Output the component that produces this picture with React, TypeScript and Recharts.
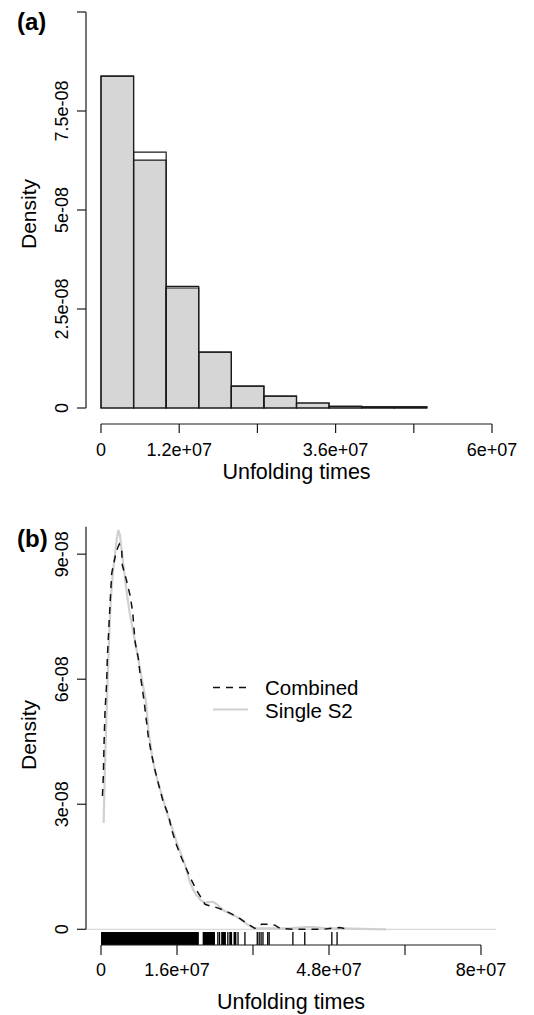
import {
  ComposedChart, Bar, Line, XAxis, YAxis, ReferenceLine, ReferenceArea, Legend, Label,
} from 'recharts'

// (a) histogram of unfolding times, bins of 5e6
const binMids = [2.5e6, 7.5e6, 12.5e6, 17.5e6, 22.5e6, 27.5e6, 32.5e6, 37.5e6, 42.5e6, 47.5e6]
const histFilled = [8.38e-8, 6.26e-8, 3.03e-8, 1.41e-8, 0.55e-8, 0.30e-8, 0.126e-8, 0.04e-8, 0.03e-8, 0.03e-8]
const histOpen = [8.38e-8, 6.46e-8, 3.07e-8, 1.41e-8, 0.55e-8, 0.30e-8, 0.126e-8, 0.04e-8, 0.03e-8, 0.03e-8]
const histXTicks = [0, 1.2e7, 2.4e7, 3.6e7, 4.8e7, 6e7]
const histXTickLabels = ['0', '1.2e+07', '', '3.6e+07', '', '6e+07']
const histYTicks = [0, 2.5e-8, 5e-8, 7.5e-8, 1e-7]
const histYTickLabels = ['0', '2.5e-08', '5e-08', '7.5e-08', '']

// (b) density estimates
const s2X = [
  0.55e6, 0.85e6, 1.25e6, 1.65e6, 2.05e6, 2.5e6, 2.95e6, 3.3e6, 3.65e6, 4.0e6, 4.7e6, 5.4e6,
  6.1e6, 7.1e6, 8.07e6, 9.0e6, 9.47e6, 9.96e6, 10.7e6, 11.4e6, 12.6e6, 13.8e6, 14.9e6, 15.9e6,
  17.0e6, 17.7e6, 18.7e6, 19.4e6, 20.1e6, 21.0e6, 21.9e6, 22.8e6, 23.6e6, 24.4e6, 25.7e6, 27.0e6,
  28.4e6, 29.8e6, 31.0e6, 32.2e6, 34e6, 37e6, 40e6, 43e6, 45e6, 47e6, 50e6, 55e6, 60e6,
]
const s2Y = [
  2.55e-8, 4.0e-8, 5.5e-8, 6.8e-8, 7.9e-8, 8.55e-8, 9.0e-8, 9.35e-8, 9.58e-8, 9.45e-8, 8.74e-8, 8.1e-8,
  7.54e-8, 6.95e-8, 6.34e-8, 5.75e-8, 5.46e-8, 4.8e-8, 4.2e-8, 3.78e-8, 3.3e-8, 2.82e-8, 2.45e-8, 2.1e-8,
  1.75e-8, 1.54e-8, 1.14e-8, 0.95e-8, 0.82e-8, 0.7e-8, 0.64e-8, 0.65e-8, 0.66e-8, 0.6e-8, 0.46e-8, 0.38e-8,
  0.31e-8, 0.2e-8, 0.1e-8, 0.02e-8, 0.02e-8, 0.02e-8, 0.03e-8, 0.05e-8, 0.05e-8, 0.03e-8, 0.02e-8, 0.01e-8, 0,
]
const combX = [
  0.3e6, 0.5e6, 0.63e6, 0.84e6, 1.2e6, 1.33e6, 1.75e6, 2.25e6, 3.0e6, 3.5e6, 3.85e6, 4.36e6, 4.49e6,
  5.3e6, 6.1e6, 6.67e6, 7.16e6, 7.86e6, 8.2e6, 8.7e6, 9.12e6, 9.96e6, 10.67e6, 11.37e6, 12.06e6, 13.1e6,
  14.2e6, 14.9e6, 15.9e6, 17.0e6, 18.7e6, 20.1e6, 21.9e6, 23.2e6, 24.4e6, 26.0e6, 27.5e6, 29.2e6, 30.7e6,
  32.4e6, 33.1e6, 33.8e6, 35.2e6, 36.6e6, 37.7e6, 40.5e6, 43.5e6, 46.8e6, 48.7e6, 50.3e6, 52e6,
]
const combY = [
  3.2e-8, 3.7e-8, 4.42e-8, 5.22e-8, 5.94e-8, 6.5e-8, 7.46e-8, 8.54e-8, 8.95e-8, 9.15e-8, 9.24e-8, 9.1e-8, 8.74e-8,
  8.4e-8, 8.02e-8, 7.62e-8, 6.9e-8, 6.5e-8, 6.14e-8, 5.78e-8, 5.42e-8, 4.62e-8, 4.18e-8, 3.82e-8, 3.5e-8, 3.06e-8,
  2.74e-8, 2.38e-8, 2.02e-8, 1.7e-8, 1.26e-8, 0.94e-8, 0.6e-8, 0.55e-8, 0.52e-8, 0.45e-8, 0.37e-8, 0.26e-8, 0.14e-8,
  0.02e-8, 0.08e-8, 0.12e-8, 0.12e-8, 0.1e-8, 0.02e-8, 0, 0, 0, 0.03e-8, 0.04e-8, 0,
]
// rug: stretches too dense to resolve, then single observations
const rugBands = [[0, 20.6e6], [21.4e6, 24.0e6], [25.3e6, 26.3e6], [27.0e6, 27.6e6], [27.9e6, 28.5e6]]
const rugTicks = [
  24.6e6, 24.95e6, 26.7e6, 28.85e6, 30.3e6, 32.9e6, 33.3e6, 33.7e6, 34.1e6, 35.1e6, 35.4e6,
  40.4e6, 42.9e6, 48.6e6, 49.7e6,
]
const densXTicks = [0, 1.6e7, 3.2e7, 4.8e7, 6.4e7, 8e7]
const densXTickLabels = ['0', '1.6e+07', '', '4.8e+07', '', '8e+07']
const densYTicks = [0, 3e-8, 6e-8, 9e-8]
const densYTickLabels = ['0', '3e-08', '6e-08', '9e-08']
const legendOrder = ['Combined', 'Single S2']

// plot regions (R pads the data range by 4%)
const A_X: [number, number] = [-2.302e6, 6.23e7]
const A_Y: [number, number] = [-4.04e-9, 1.0202e-7]
const B_X: [number, number] = [-3.16e6, 8.316e7]
const B_Y: [number, number] = [-3.77e-9, 9.70e-8]
const RUG_TOP = B_Y[0] + 3.12e-9

const FONT = '"Liberation Sans", Arial, Helvetica, sans-serif'
const INK = '#1a1a1a'
const tickLineStyle = { stroke: INK, strokeWidth: 1.2 }
const xTickStyle = { fontSize: 18, fill: '#000', fontFamily: FONT }

function labelFor(ticks: number[], labels: string[]) {
  return (v: number) => labels[ticks.indexOf(v)] ?? ''
}

function rotatedTick(ticks: number[], labels: string[]) {
  return (props: any) => {
    const { x, y, payload } = props
    return (
      <text x={x} y={y} transform={`rotate(-90 ${x} ${y})`} textAnchor="middle"
        fontSize={18} fontFamily={FONT} fill="#000">
        {labels[ticks.indexOf(payload.value)] ?? ''}
      </text>
    )
  }
}

function yTitle(panel: string, panelBaseline: number) {
  return (props: any) => {
    const vb = props.viewBox ?? { x: 0, y: 0, width: 0, height: 0 }
    const cy = vb.y + vb.height / 2
    return (
      <g>
        <text x={35.5} y={cy} transform={`rotate(-90 35.5 ${cy})`} textAnchor="middle"
          fontSize={21} fontFamily={FONT} fill="#000">Density</text>
        <text x={17} y={panelBaseline} fontSize={24} fontWeight="bold" fontFamily={FONT} fill="#000">{panel}</text>
      </g>
    )
  }
}

function CurveLegend({ payload }: any) {
  const items = [...(payload ?? [])].sort(
    (a: any, b: any) => legendOrder.indexOf(a.value) - legendOrder.indexOf(b.value),
  )
  return (
    <svg width={220} height={50} style={{ display: 'block', overflow: 'visible' }}>
      {items.map((it: any, i: number) => (
        <g key={it.value}>
          <line x1={8} x2={43} y1={7.5 + i * 22} y2={7.5 + i * 22} stroke={it.color}
            strokeWidth={it.payload?.strokeWidth ?? 1.5} strokeDasharray={it.payload?.strokeDasharray} />
          <text x={60} y={15 + i * 22.5} fontSize={20.5} fontFamily={FONT} fill="#000">{it.value}</text>
        </g>
      ))}
    </svg>
  )
}

function HistogramPanel() {
  const data = binMids.map((x, i) => ({ x, filled: histFilled[i], open: histOpen[i] }))
  return (
    <ComposedChart width={534} height={490} data={data} margin={{ top: 4, right: 27, bottom: 6, left: 0 }}>
      <XAxis dataKey="x" type="number" domain={A_X} allowDataOverflow ticks={histXTicks} interval={0}
        axisLine={false} tickLine={tickLineStyle} tickSize={9} tickMargin={10} height={60}
        tickFormatter={labelFor(histXTicks, histXTickLabels)} tick={xTickStyle}>
        <Label value="Unfolding times" position="insideBottom" offset={5} fontSize={21.5} fill="#000" fontFamily={FONT} />
      </XAxis>
      <XAxis xAxisId="open" dataKey="x" type="number" domain={A_X} allowDataOverflow hide />
      <YAxis type="number" domain={A_Y} allowDataOverflow ticks={histYTicks} interval={0} width={86}
        axisLine={false} tickLine={tickLineStyle} tickSize={9} tickMargin={9}
        tick={rotatedTick(histYTicks, histYTickLabels)}>
        <Label content={yTitle('(a)', 30)} />
      </YAxis>
      <Bar dataKey="filled" fill="#d6d6d6" stroke={INK} strokeWidth={1.2} barSize={32.58} isAnimationActive={false} />
      <Bar dataKey="open" xAxisId="open" fill="none" stroke={INK} strokeWidth={1.2} barSize={32.58} isAnimationActive={false} />
      <ReferenceLine segment={[{ x: 0, y: A_Y[0] }, { x: 6e7, y: A_Y[0] }]} stroke={INK} strokeWidth={1.2} ifOverflow="visible" />
      <ReferenceLine segment={[{ x: A_X[0], y: 0 }, { x: A_X[0], y: 1e-7 }]} stroke={INK} strokeWidth={1.2} ifOverflow="visible" />
    </ComposedChart>
  )
}

function DensityPanel() {
  const s2 = s2X.map((x, i) => ({ x, y: s2Y[i] }))
  const comb = combX.map((x, i) => ({ x, y: combY[i] }))
  return (
    <ComposedChart width={534} height={525} margin={{ top: 35, right: 38, bottom: 5, left: 0 }}>
      <XAxis dataKey="x" type="number" domain={B_X} allowDataOverflow ticks={densXTicks} interval={0}
        axisLine={false} tickLine={tickLineStyle} tickSize={10} tickMargin={8} height={65}
        tickFormatter={labelFor(densXTicks, densXTickLabels)} tick={xTickStyle}>
        <Label value="Unfolding times" position="insideBottom" offset={1} fontSize={21.5} fill="#000" fontFamily={FONT} />
      </XAxis>
      <YAxis dataKey="y" type="number" domain={B_Y} allowDataOverflow ticks={densYTicks} interval={0} width={86}
        axisLine={false} tickLine={tickLineStyle} tickSize={9} tickMargin={9}
        tick={rotatedTick(densYTicks, densYTickLabels)}>
        <Label content={yTitle('(b)', 57)} />
      </YAxis>
      <ReferenceLine y={0} stroke="#cfcfcf" strokeWidth={1} />
      {rugBands.map(([a, b]) => (
        <ReferenceArea key={a} x1={a} x2={b} y1={B_Y[0]} y2={RUG_TOP} fill="#000" fillOpacity={1}
          stroke="none" ifOverflow="visible" />
      ))}
      {rugTicks.map((v) => (
        <ReferenceLine key={v} segment={[{ x: v, y: B_Y[0] }, { x: v, y: RUG_TOP }]} stroke="#000"
          strokeWidth={1.3} ifOverflow="visible" />
      ))}
      <Line data={s2} dataKey="y" name="Single S2" type="linear" stroke="#d0d0d0" strokeWidth={2.2}
        dot={false} isAnimationActive={false} />
      <Line data={comb} dataKey="y" name="Combined" type="linear" stroke="#111" strokeWidth={1.5}
        strokeDasharray="7 6" dot={false} isAnimationActive={false} />
      <ReferenceLine segment={[{ x: 0, y: B_Y[0] }, { x: 8e7, y: B_Y[0] }]} stroke={INK} strokeWidth={1.2} ifOverflow="visible" />
      <ReferenceLine segment={[{ x: B_X[0], y: 0 }, { x: B_X[0], y: 9.66e-8 }]} stroke={INK} strokeWidth={1.2} ifOverflow="visible" />
      <Legend layout="vertical" verticalAlign="middle" align="center"
        wrapperStyle={{ left: 205, top: 190, width: 220, height: 50 }} content={CurveLegend} />
    </ComposedChart>
  )
}

export default function App() {
  return (
    <div style={{ position: 'absolute', left: 0, top: 0, width: 534, background: '#fff' }}>
      <HistogramPanel />
      <DensityPanel />
    </div>
  )
}
